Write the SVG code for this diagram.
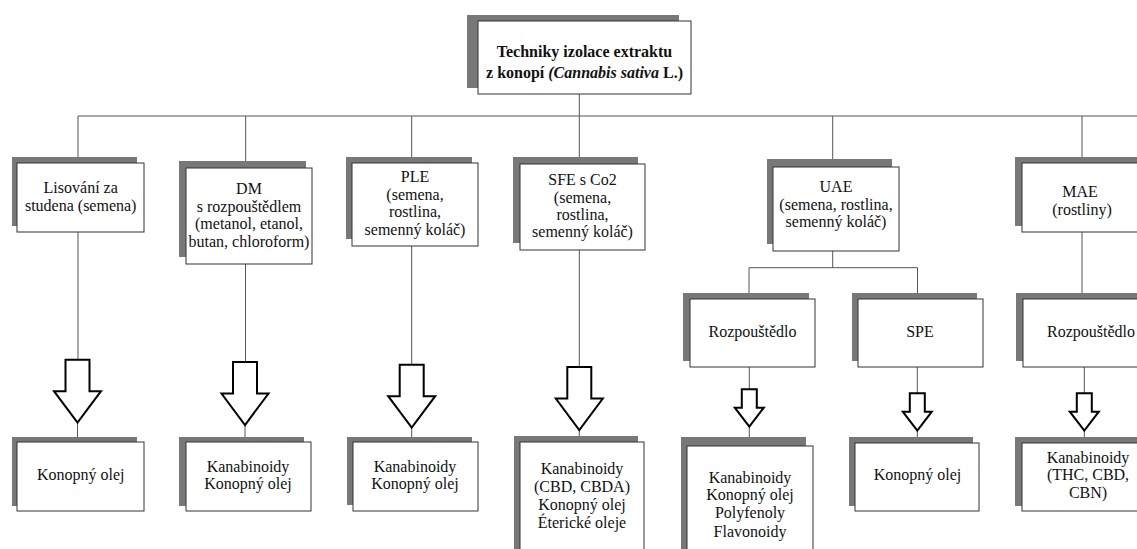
<svg xmlns="http://www.w3.org/2000/svg" xmlns:xlink="http://www.w3.org/1999/xlink" width="1137" height="549" viewBox="0 0 1137 549">
<style>
.sh{fill:#787878}
.bx{fill:#fff;stroke:#333;stroke-width:1}
.t{font-family:"Liberation Serif","Times New Roman",serif;font-size:16px;text-anchor:middle;fill:#111}
.b{font-weight:bold}
.ln{stroke:#555;stroke-width:1;fill:none}
.ar{fill:#fff;stroke:#000;stroke-width:2;stroke-linejoin:miter}
</style>
<defs>
<polygon id="bigArrow" class="ar" points="-12,-63 12,-63 12,-31.5 23.5,-31.5 0,0 -23.5,-31.5 -12,-31.5"/>
<polygon id="smallArrow" class="ar" points="-7.5,-37.5 7.5,-37.5 7.5,-19 14.5,-19 0,0 -14.5,-19 -7.5,-19"/>
</defs>
<rect width="1137" height="549" fill="#fff"/>
<g id="connectors">
<path class="ln" d="M579.3,94V116M78,116H1137M78,116V157M245.7,116V161M411.7,116V157M579.3,116V157M832.7,116V159M1082,116V157"/>
<path class="ln" d="M78,232V360M245.5,264V362M411.7,246V364.7M579.3,250V367"/>
<path class="ln" d="M77.5,422.7V437M245,425V437M411.7,427.7V437M579.3,430V436"/>
<path class="ln" d="M832.7,251V267.7M749,267.7H917.5M749,267.7V293M917.5,267.7V293M1082,232V293"/>
<path class="ln" d="M749.3,367V389.3M749.3,426.7V446M917.3,367V393.3M917.3,430.7V437M1084.3,367V393.3M1084.3,430.7V437"/>
<use xlink:href="#bigArrow" x="77.5" y="422.7"/>
<use xlink:href="#bigArrow" x="245" y="425"/>
<use xlink:href="#bigArrow" x="411.7" y="427.7"/>
<use xlink:href="#bigArrow" x="579.3" y="430"/>
<use xlink:href="#smallArrow" x="749.3" y="426.7"/>
<use xlink:href="#smallArrow" x="917.3" y="430.7"/>
<use xlink:href="#smallArrow" x="1084.3" y="430.7"/>
</g>
<g id="root">
<rect class="sh" x="467" y="15" width="212" height="73"/>
<rect class="bx" x="478" y="21" width="213" height="73"/>
<text class="t b" x="584.5" y="57">Techniky izolace extraktu</text>
<text class="t b" x="584.5" y="78">z konopí <tspan font-style="italic">(Cannabis sativa</tspan> L.)</text>
</g>
<g id="lisovani">
<rect class="sh" x="12" y="157" width="125" height="69"/>
<rect class="bx" x="17" y="163" width="127" height="69"/>
<text class="t" x="80.7" y="193">Lisování za</text>
<text class="t" x="80.7" y="211">studena (semena)</text>
</g>
<g id="dm">
<rect class="sh" x="179" y="161" width="127" height="96"/>
<rect class="bx" x="186" y="168" width="126" height="96"/>
<text class="t" x="249" y="194">DM</text>
<text class="t" x="249" y="211.7">s rozpouštědlem</text>
<text class="t" x="249" y="229">(metanol, etanol,</text>
<text class="t" x="249" y="246.7">butan, chloroform)</text>
</g>
<g id="ple">
<rect class="sh" x="346" y="157" width="126" height="82"/>
<rect class="bx" x="352" y="163" width="126" height="83"/>
<text class="t" x="415" y="182.3">PLE</text>
<text class="t" x="415" y="200">(semena,</text>
<text class="t" x="415" y="217.3">rostlina,</text>
<text class="t" x="415" y="235">semenný koláč)</text>
</g>
<g id="sfe">
<rect class="sh" x="513" y="157" width="125" height="86"/>
<rect class="bx" x="520" y="164" width="125" height="86"/>
<text class="t" x="582.5" y="185">SFE s Co2</text>
<text class="t" x="582.5" y="202.7">(semena,</text>
<text class="t" x="582.5" y="220">rostlina,</text>
<text class="t" x="582.5" y="237.3">semenný koláč)</text>
</g>
<g id="uae">
<rect class="sh" x="767" y="159" width="125" height="85"/>
<rect class="bx" x="773" y="167" width="126" height="84"/>
<text class="t" x="836" y="192.3">UAE</text>
<text class="t" x="836" y="210">(semena, rostlina,</text>
<text class="t" x="836" y="227.3">semenný koláč)</text>
</g>
<g id="mae">
<rect class="sh" x="1015" y="157" width="130" height="69"/>
<rect class="bx" x="1022" y="163" width="130" height="69"/>
<text class="t" x="1080" y="196.7">MAE</text>
<text class="t" x="1082" y="215">(rostliny)</text>
</g>
<g id="uae-rozpoustedlo">
<rect class="sh" x="683" y="293" width="126" height="68"/>
<rect class="bx" x="690" y="299" width="125" height="68"/>
<text class="t" x="752.5" y="336.7">Rozpouštědlo</text>
</g>
<g id="spe">
<rect class="sh" x="852" y="293" width="125" height="68"/>
<rect class="bx" x="858" y="299" width="125" height="68"/>
<text class="t" x="920" y="336.7">SPE</text>
</g>
<g id="mae-rozpoustedlo">
<rect class="sh" x="1016" y="293" width="130" height="68"/>
<rect class="bx" x="1023" y="299" width="140" height="68"/>
<text class="t" x="1091" y="336.7">Rozpouštědlo</text>
</g>
<g id="res-lisovani">
<rect class="sh" x="12" y="437" width="125" height="69"/>
<rect class="bx" x="17" y="442" width="127" height="69"/>
<text class="t" x="80.7" y="480">Konopný olej</text>
</g>
<g id="res-dm">
<rect class="sh" x="179" y="437" width="125" height="69"/>
<rect class="bx" x="186" y="442" width="125" height="69"/>
<text class="t" x="248" y="471.7">Kanabinoidy</text>
<text class="t" x="248" y="489.3">Konopný olej</text>
</g>
<g id="res-ple">
<rect class="sh" x="347" y="437" width="125" height="68"/>
<rect class="bx" x="353" y="442" width="125" height="69"/>
<text class="t" x="415" y="471.7">Kanabinoidy</text>
<text class="t" x="415" y="489.3">Konopný olej</text>
</g>
<g id="res-sfe">
<rect class="sh" x="514" y="436" width="124" height="120"/>
<rect class="bx" x="520" y="442" width="124" height="120"/>
<text class="t" x="582" y="474.3">Kanabinoidy</text>
<text class="t" x="582" y="492.3">(CBD, CBDA)</text>
<text class="t" x="582" y="510">Konopný olej</text>
<text class="t" x="582" y="527.7">Éterické oleje</text>
</g>
<g id="res-uae-rozpoustedlo">
<rect class="sh" x="681" y="437" width="125" height="120"/>
<rect class="bx" x="687" y="446" width="126" height="120"/>
<text class="t" x="750" y="482.7">Kanabinoidy</text>
<text class="t" x="750" y="500.3">Konopný olej</text>
<text class="t" x="750" y="518.3">Polyfenoly</text>
<text class="t" x="750" y="536.7">Flavonoidy</text>
</g>
<g id="res-spe">
<rect class="sh" x="849" y="437" width="124" height="69"/>
<rect class="bx" x="855" y="443" width="124" height="68"/>
<text class="t" x="917.5" y="480">Konopný olej</text>
</g>
<g id="res-mae">
<rect class="sh" x="1015" y="437" width="130" height="69"/>
<rect class="bx" x="1022" y="443" width="140" height="68"/>
<text class="t" x="1088" y="462.7">Kanabinoidy</text>
<text class="t" x="1088" y="480">(THC, CBD,</text>
<text class="t" x="1088" y="498.3">CBN)</text>
</g>
</svg>
